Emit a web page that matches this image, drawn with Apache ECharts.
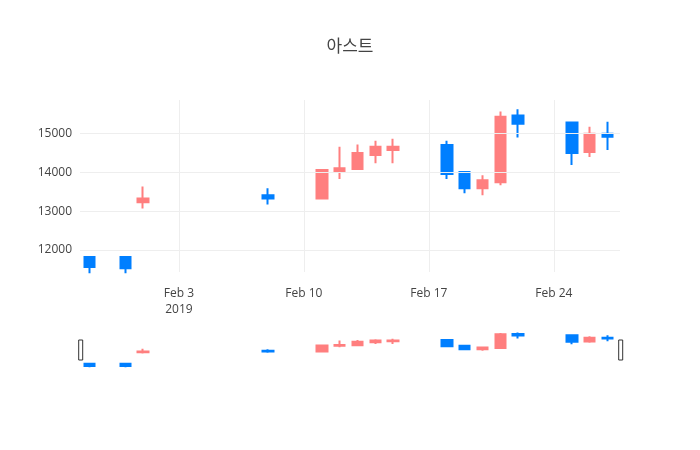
<!DOCTYPE html>
<html><head><meta charset="utf-8">
<script src="https://cdn.jsdelivr.net/npm/echarts@6/dist/echarts.min.js"></script>
<style>html,body{margin:0;padding:0;background:#fff}#c{width:700px;height:450px}</style>
</head><body><div id="c"></div>
<script>
const dates = ['2019-01-29','2019-01-31','2019-02-01','2019-02-08','2019-02-11','2019-02-12','2019-02-13','2019-02-14','2019-02-15','2019-02-18','2019-02-19','2019-02-20','2019-02-21','2019-02-22','2019-02-25','2019-02-26','2019-02-27'];
const opens  = [11817,11817,13230,13410,13330,14010,14090,14450,14580,14710,14010,13590,13750,15470,15290,14530,15000];
const closes = [11556,11530,13330,13330,14060,14110,14500,14660,14660,13960,13590,13800,15440,15260,14500,15000,14920];
const lows   = [11400,11400,13070,13170,13330,13830,14060,14240,14240,13830,13460,13410,13670,14900,14190,14400,14580];
const highs  = [11817,11817,13640,13590,14060,14660,14720,14820,14870,14820,14010,13930,15570,15630,15290,15180,15310];
const xTicks = [0,7,14,21];
const xTickLabels = ['Feb 3\n2019','Feb 10','Feb 17','Feb 24'];
const yTicks = [12000,13000,14000,15000];

const base = Date.UTC(2019,1,3);
const days = dates.map(d => (Date.parse(d+'T00:00:00Z') - base)/86400000);
const data = days.map((x,i) => [x, opens[i], closes[i], lows[i], highs[i]]);
const up = '#ff7f7f', down = '#007fff';
const style = {color: up, color0: down, borderColor: up, borderColor0: down, borderWidth: 2};
const chart = echarts.init(document.getElementById('c'));
chart.setOption({
  animation:false,
  title:{text:'아스트', left:'center', top:32, textStyle:{fontFamily:'Noto Sans CJK KR', fontSize:17, fontWeight:'normal', color:'#444'}},
  grid:[{left:80,right:80,top:100,height:172},{left:80,right:80,top:332,height:36}],
  xAxis:[
    {type:'value', gridIndex:0, min:-5.54, max:24.7, splitLine:{show:false}, axisLine:{show:false}, axisTick:{show:false},
     axisLabel:{customValues:xTicks, formatter:v=>xTickLabels[xTicks.indexOf(v)]||'', color:'#444', fontFamily:'Open Sans', fontSize:12, lineHeight:16, margin:14}},
    {type:'value', gridIndex:1, min:-5.54, max:24.7, show:false}
  ],
  yAxis:[
    {type:'value', gridIndex:0, min:11430, max:15870, splitLine:{show:false}, axisLine:{show:false}, axisTick:{show:false},
     axisLabel:{customValues:yTicks, formatter:v=>String(v), color:'#444', fontFamily:'Open Sans', fontSize:12}},
    {type:'value', gridIndex:1, min:11300, max:15700, show:false}
  ],
  dataZoom:[{type:'slider', xAxisIndex:[0], filterMode:'none', left:79, right:79, top:340, height:20, start:0, end:100,
    showDataShadow:false, showDetail:false, borderColor:'transparent', backgroundColor:'transparent', fillerColor:'transparent',
    handleIcon:'path://M0,0 L4,0 L4,20 L0,20 Z', handleSize:'100%', handleStyle:{color:'#fff', borderColor:'#333', borderWidth:1}, moveHandleSize:0, brushSelect:false}],
  series:[
    {type:'candlestick', xAxisIndex:0, yAxisIndex:0, data:data, encode:{x:0,y:[1,2,3,4]}, barWidth:11, itemStyle:style,
     markLine:{silent:true, symbol:'none', label:{show:false}, lineStyle:{color:'#eee', type:'solid', width:1},
       data:[...xTicks.map(v=>({xAxis:v})), ...yTicks.map(v=>({yAxis:v}))]}},
    {type:'candlestick', xAxisIndex:1, yAxisIndex:1, data:data, encode:{x:0,y:[1,2,3,4]}, barWidth:11, itemStyle:style}
  ]
});
</script></body></html>
